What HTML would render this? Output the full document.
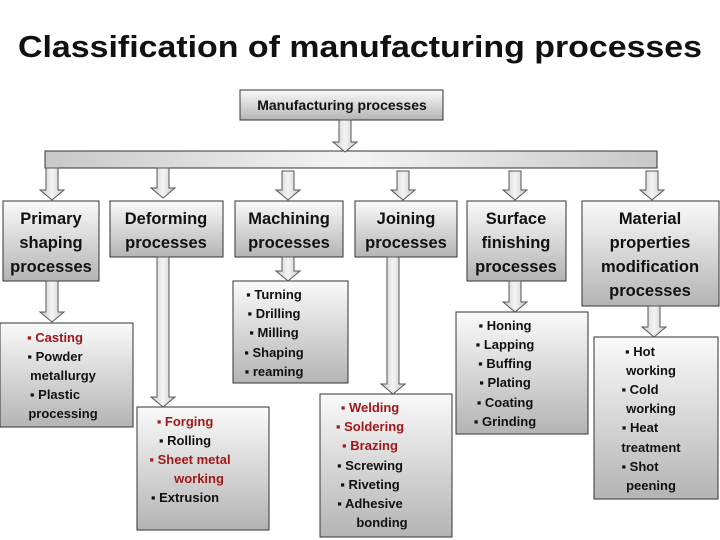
<!DOCTYPE html>
<html><head><meta charset="utf-8"><style>
html,body{margin:0;padding:0;background:#fff;width:720px;height:540px;overflow:hidden}
svg{display:block}
text{font-family:"Liberation Sans",sans-serif;font-weight:bold;text-anchor:middle}
.h{font-size:16.5px;fill:#111}
.l{font-size:13px;fill:#111}
.r{fill:#a01818}
</style></head><body>
<svg width="720" height="540" viewBox="0 0 720 540" xmlns="http://www.w3.org/2000/svg">
<defs>
<linearGradient id="g" x1="0" y1="0" x2="0" y2="1"><stop offset="0" stop-color="#fafafa"/><stop offset="1" stop-color="#b4b4b4"/></linearGradient>
<linearGradient id="a" x1="0" y1="0" x2="1" y2="0"><stop offset="0" stop-color="#c8c8c8"/><stop offset="0.5" stop-color="#f4f4f4"/><stop offset="1" stop-color="#c8c8c8"/></linearGradient>
</defs>
<text x="360" y="57" textLength="684" lengthAdjust="spacingAndGlyphs" style="font-size:31px;font-weight:bold;fill:#111">Classification of manufacturing processes</text>
<g stroke="#333" stroke-width="1" fill="url(#g)">
<rect x="240" y="90" width="203" height="30"/>
<rect x="45" y="151" width="612" height="17" fill="url(#a)"/>
<rect x="3" y="201" width="96" height="80"/>
<rect x="110" y="201" width="113" height="56"/>
<rect x="235" y="201" width="108" height="56"/>
<rect x="355" y="201" width="102" height="56"/>
<rect x="467" y="201" width="99" height="80"/>
<rect x="582" y="201" width="137" height="105"/>
<rect x="0" y="323" width="133" height="104"/>
<rect x="137" y="407" width="132" height="123"/>
<rect x="233" y="281" width="115" height="102"/>
<rect x="320" y="394" width="132" height="143"/>
<rect x="456" y="312" width="132" height="122"/>
<rect x="594" y="337" width="124" height="162"/>
</g>
<g stroke="#555" stroke-width="1" fill="url(#a)">
<polygon points="339,120 351,120 351,142 357,142 345,152 333,142 339,142"/>
<polygon points="46,168 58,168 58,190 64,190 52,200 40,190 46,190"/>
<polygon points="157,168 169,168 169,188 175,188 163,198 151,188 157,188"/>
<polygon points="282,171 294,171 294,190 300,190 288,200 276,190 282,190"/>
<polygon points="397,171 409,171 409,190 415,190 403,200 391,190 397,190"/>
<polygon points="509,171 521,171 521,190 527,190 515,200 503,190 509,190"/>
<polygon points="646,171 658,171 658,190 664,190 652,200 640,190 646,190"/>
<polygon points="46,281 58,281 58,312 64,312 52,322 40,312 46,312"/>
<polygon points="282,257 294,257 294,271 300,271 288,281 276,271 282,271"/>
<polygon points="157,257 169,257 169,397 175,397 163,407 151,397 157,397"/>
<polygon points="387,257 399,257 399,384 405,384 393,394 381,384 387,384"/>
<polygon points="509,281 521,281 521,302 527,302 515,312 503,302 509,302"/>
<polygon points="648,306 660,306 660,327 666,327 654,337 642,327 648,327"/>
</g>
<text class="l" x="342" y="110" style="font-size:14px">Manufacturing processes</text>
<text class="h" x="51" y="224">Primary</text><text class="h" x="51" y="248">shaping</text><text class="h" x="51" y="272">processes</text>
<text class="h" x="166" y="224">Deforming</text><text class="h" x="166" y="248">processes</text>
<text class="h" x="289" y="224">Machining</text><text class="h" x="289" y="248">processes</text>
<text class="h" x="406" y="224">Joining</text><text class="h" x="406" y="248">processes</text>
<text class="h" x="516" y="224">Surface</text><text class="h" x="516" y="248">finishing</text><text class="h" x="516" y="272">processes</text>
<text class="h" x="650" y="224">Material</text><text class="h" x="650" y="248">properties</text><text class="h" x="650" y="272">modification</text><text class="h" x="650" y="296">processes</text>
<g class="l">
<text class="l r" x="55" y="342">▪   Casting</text>
<text class="l" x="55" y="361">▪   Powder</text>
<text class="l" x="63" y="380">metallurgy</text>
<text class="l" x="55" y="399">▪   Plastic</text>
<text class="l" x="63" y="418">processing</text>

<text class="l r" x="185" y="426">▪   Forging</text>
<text class="l" x="185" y="445">▪   Rolling</text>
<text class="l r" x="190" y="464">▪   Sheet metal</text>
<text class="l r" x="199" y="483">working</text>
<text class="l" x="185" y="502">▪   Extrusion</text>

<text class="l" x="274" y="299">▪    Turning</text>
<text class="l" x="274" y="318">▪    Drilling</text>
<text class="l" x="274" y="337">▪    Milling</text>
<text class="l" x="274" y="357">▪   Shaping</text>
<text class="l" x="274" y="376">▪   reaming</text>

<text class="l r" x="370" y="412">▪   Welding</text>
<text class="l r" x="370" y="431">▪   Soldering</text>
<text class="l r" x="370" y="450">▪   Brazing</text>
<text class="l" x="370" y="470">▪   Screwing</text>
<text class="l" x="370" y="489">▪   Riveting</text>
<text class="l" x="370" y="508">▪   Adhesive</text>
<text class="l" x="382" y="527">bonding</text>

<text class="l" x="505" y="330">▪    Honing</text>
<text class="l" x="505" y="349">▪   Lapping</text>
<text class="l" x="505" y="368">▪    Buffing</text>
<text class="l" x="505" y="387">▪    Plating</text>
<text class="l" x="505" y="407">▪   Coating</text>
<text class="l" x="505" y="426">▪   Grinding</text>

<text class="l" x="640" y="356">▪    Hot</text>
<text class="l" x="651" y="375">working</text>
<text class="l" x="640" y="394">▪    Cold</text>
<text class="l" x="651" y="413">working</text>
<text class="l" x="640" y="432">▪    Heat</text>
<text class="l" x="651" y="452">treatment</text>
<text class="l" x="640" y="471">▪    Shot</text>
<text class="l" x="651" y="490">peening</text>
</g>
</svg>
</body></html>
